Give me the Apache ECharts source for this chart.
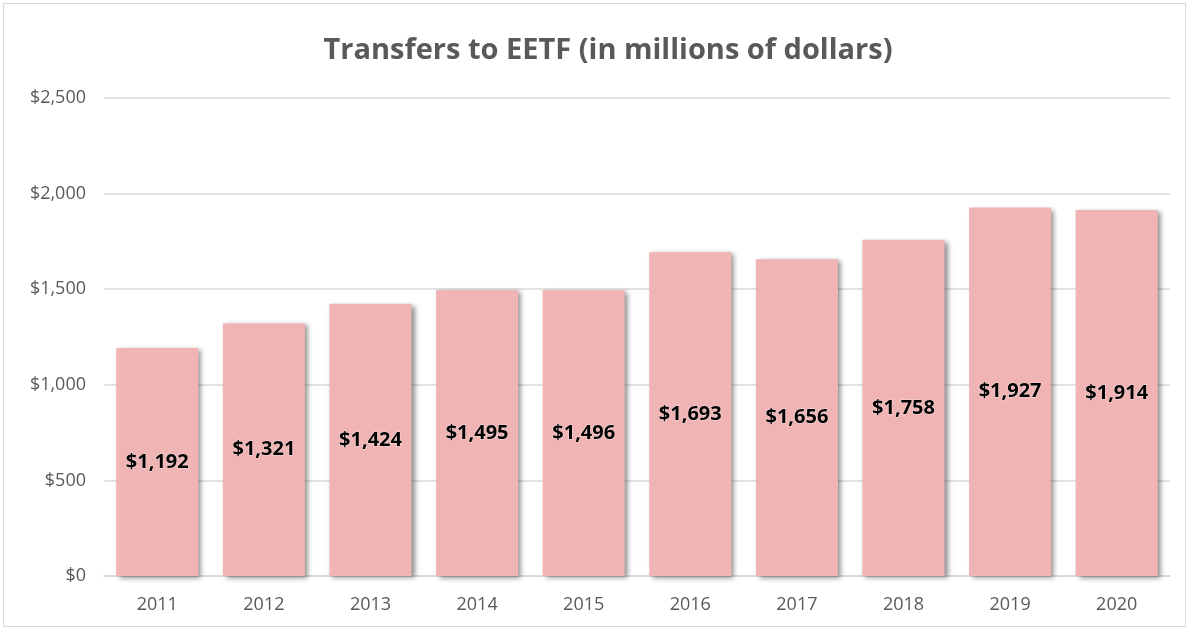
<!DOCTYPE html>
<html>
<head>
<meta charset="utf-8">
<script src="https://cdn.jsdelivr.net/npm/echarts@6/dist/echarts.min.js"></script>
<style>
  html, body { margin: 0; padding: 0; background: #fff; }
  #chart {
    position: absolute;
    left: 3px; top: 3px;
    width: 1183px; height: 624px;
    border: 1px solid #d9d9d9;
    box-sizing: border-box;
  }
</style>
</head>
<body>
<div id="chart"></div>
<script>
const years = ["2011", "2012", "2013", "2014", "2015", "2016", "2017", "2018", "2019", "2020"];
const transfers = [1192, 1321, 1424, 1495, 1496, 1693, 1656, 1758, 1927, 1914];
const yTicks = [0, 500, 1000, 1500, 2000, 2500];

const fmtMoney = (v) => "$" + Number(v).toLocaleString("en-US");

const chart = echarts.init(document.getElementById("chart"), null, { renderer: "canvas" });

chart.setOption({
  backgroundColor: "#fff",
  animation: false,
  title: {
    text: "Transfers to EETF (in millions of dollars)",
    left: 599,
    textAlign: "center",
    top: 27,
    textStyle: {
      color: "#595959",
      fontSize: 29,
      fontWeight: "bold",
      fontFamily: "Open Sans",
    },
  },
  grid: {
    left: 100,
    right: 15,
    top: 94,
    bottom: 50,
  },
  xAxis: {
    type: "category",
    data: years,
    axisTick: { show: false },
    axisLine: { lineStyle: { color: "#d9d9d9", width: 1.5 } },
    axisLabel: {
      color: "#595959",
      fontSize: 18,
      fontFamily: "Open Sans",
      margin: 20,
    },
  },
  yAxis: {
    type: "value",
    min: yTicks[0],
    max: yTicks[yTicks.length - 1],
    interval: 500,
    axisLine: { show: false },
    axisTick: { show: false },
    splitLine: { lineStyle: { color: "#d9d9d9", width: 1.5 } },
    axisLabel: {
      color: "#595959",
      fontSize: 18,
      fontFamily: "Open Sans",
      margin: 18,
      formatter: fmtMoney,
    },
  },
  series: [
    {
      type: "bar",
      data: transfers,
      barCategoryGap: "23%",
      itemStyle: {
        color: "#f0b4b4",
        shadowColor: "rgba(0,0,0,0.45)",
        shadowBlur: 5,
        shadowOffsetX: 3,
        shadowOffsetY: 2,
      },
      label: {
        show: true,
        position: "inside",
        formatter: (p) => fmtMoney(p.value),
        color: "#000",
        fontSize: 20,
        fontWeight: "bold",
        fontFamily: "Open Sans",
        textBorderColor: "rgba(255,255,255,0.5)",
        textBorderWidth: 1,
      },
    },
  ],
});
</script>
</body>
</html>
